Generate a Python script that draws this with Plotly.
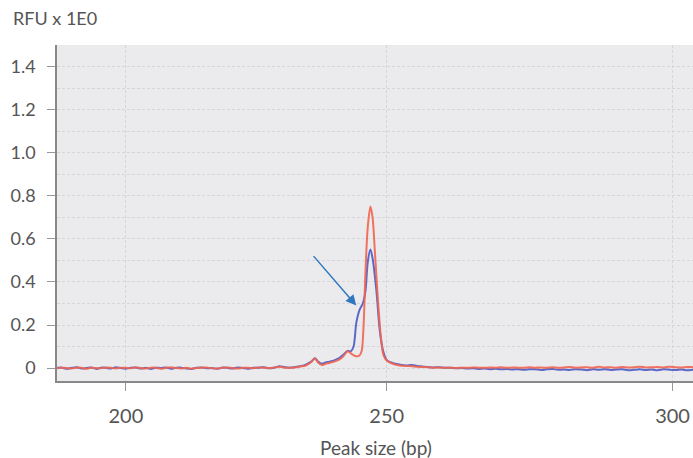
import numpy as np
import plotly.graph_objects as go

# ---------------- data ----------------
tick_bp = [200, 250, 300]
tick_text = ["200", "250", "300"]

bp_left = [186, 187, 188, 189, 190, 191, 192, 193, 194, 195, 196, 197, 198, 199, 200,
           201, 202, 203, 204, 205, 206, 207, 208, 209, 210, 211, 212, 213, 214, 215,
           216, 217, 218, 219, 220, 221, 222, 223, 224, 225, 226, 227, 228, 229, 230,
           231, 232, 233]
bp_right = [256.5, 257.5, 258.5, 259.5, 260.5, 261.5, 262.5, 263.5, 264.5, 265.5,
            266.5, 267.5, 268.5, 269.5, 270.5, 271.5, 272.5, 273.5, 274.5, 275.5,
            276.5, 277.5, 278.5, 279.5, 280.5, 281.5, 282.5, 283.5, 284.5, 285.5,
            286.5, 287.5, 288.5, 289.5, 290.5, 291.5, 292.5, 293.5, 294.5, 295.5,
            296.5, 297.5, 298.5, 299.5, 300.5, 301.5, 302.5, 303.5, 304.5]

# blue trace
blue_left = [0.001, 0.002, -0.003, 0.001, 0.004, -0.002, 0.000, 0.003, -0.004, 0.002,
             0.001, -0.002, 0.004, 0.000, -0.003, 0.002, 0.003, -0.002, 0.001, -0.004,
             0.002, 0.000, 0.003, -0.003, 0.001, 0.002, -0.002, -0.004, 0.001, 0.003,
             -0.001, 0.000, -0.003, 0.002, 0.001, -0.002, 0.003, 0.000, -0.003, 0.002,
             0.001, 0.004, -0.001, 0.002, 0.008, 0.004, 0.002, 0.005]
bp_blue_peak = [234, 235, 236, 236.7, 237.3, 238.0, 238.7, 239.4, 240.3, 241.3,
                242.0, 242.8, 243.4, 243.9, 244.4, 245.0, 245.6, 246.1, 246.5, 247.0,
                247.4, 248.1, 248.7, 249.3, 250.0, 251.1, 252.4, 253.5, 254.6, 255.5]
blue_peak = [0.009, 0.016, 0.030, 0.046, 0.030, 0.020, 0.026, 0.030, 0.036, 0.048,
             0.062, 0.080, 0.078, 0.100, 0.210, 0.270, 0.300, 0.360, 0.490, 0.550,
             0.510, 0.360, 0.180, 0.083, 0.037, 0.023, 0.016, 0.012, 0.014, 0.010]
blue_right = [0.007, 0.005, 0.003, 0.004, 0.001, 0.002, -0.001, 0.000, -0.002, -0.001,
              -0.004, -0.002, -0.005, -0.003, -0.006, -0.004, -0.007, -0.005, -0.008, -0.006,
              -0.005, -0.009, -0.006, -0.004, -0.008, -0.007, -0.009, -0.005, -0.007, -0.010,
              -0.006, -0.008, -0.005, -0.009, -0.007, -0.006, -0.010, -0.008, -0.006, -0.009,
              -0.007, -0.010, -0.006, -0.008, -0.009, -0.007, -0.010, -0.008, -0.009]

# red trace
red_left = [-0.001, 0.001, 0.000, -0.002, 0.002, 0.001, -0.003, 0.002, 0.000, -0.001,
            0.003, 0.001, -0.002, 0.002, 0.001, -0.001, 0.003, 0.000, -0.002, 0.002,
            0.001, -0.003, 0.001, 0.004, 0.000, -0.002, 0.001, -0.003, 0.000, 0.002,
            0.003, -0.001, -0.002, 0.001, 0.003, 0.000, -0.002, 0.001, 0.002, -0.001,
            0.003, 0.002, 0.000, 0.003, 0.006, 0.002, 0.001, 0.003]
bp_red_peak = [234, 235, 236, 236.7, 237.3, 238.0, 238.7, 239.4, 240.3, 241.3,
               242.0, 242.8, 243.5, 244.3, 245.0, 245.4, 245.75, 246.1, 246.5, 247.0,
               247.4, 247.8, 248.3, 248.9, 249.4, 250.0, 251.1, 252.4, 253.5, 254.6,
               255.5]
red_peak = [0.007, 0.012, 0.028, 0.045, 0.026, 0.014, 0.020, 0.024, 0.030, 0.040,
            0.055, 0.078, 0.066, 0.055, 0.058, 0.080, 0.200, 0.450, 0.650, 0.750,
            0.700, 0.550, 0.350, 0.150, 0.060, 0.035, 0.020, 0.012, 0.010, 0.008,
            0.006]
red_right = [0.005, 0.004, 0.002, 0.003, 0.001, 0.002, 0.000, 0.002, 0.001, 0.003,
             0.002, 0.001, 0.003, 0.002, 0.004, 0.001, 0.003, 0.002, 0.001, 0.004,
             0.002, 0.003, 0.001, 0.004, 0.002, 0.003, 0.005, 0.002, 0.003, 0.004,
             0.002, 0.006, 0.003, 0.004, 0.002, 0.005, 0.003, 0.004, 0.006, 0.003,
             0.004, 0.005, 0.003, 0.006, 0.004, 0.003, 0.005, 0.004, 0.006]

assert len(bp_left) == len(blue_left) == len(red_left)
assert len(bp_right) == len(blue_right) == len(red_right)
assert len(bp_blue_peak) == len(blue_peak)
assert len(bp_red_peak) == len(red_peak)

bp_blue = bp_left + bp_blue_peak + bp_right
rfu_blue = blue_left + blue_peak + blue_right
bp_red = bp_left + bp_red_peak + bp_right
rfu_red = red_left + red_peak + red_right


# size-standard calibration: migration position as a function of fragment size
def to_scan(bp):
    d = np.asarray(bp, dtype=float) - 250.0
    return 387.0 + 5.463 * d + 0.00498 * d * d


BLUE = "rgba(75,90,195,0.9)"
RED = "rgba(242,100,80,0.9)"
TXT = "#555555"
FONT = "Lato, 'Noto Sans', sans-serif"

fig = go.Figure()
fig.add_trace(go.Scatter(x=to_scan(bp_blue), y=rfu_blue, mode="lines",
                         line=dict(color=BLUE, width=2, shape="spline", smoothing=0.8),
                         hoverinfo="skip", showlegend=False))
fig.add_trace(go.Scatter(x=to_scan(bp_red), y=rfu_red, mode="lines",
                         line=dict(color=RED, width=2, shape="spline", smoothing=0.8),
                         hoverinfo="skip", showlegend=False))

grid = dict(showgrid=True, gridcolor="#d6d6da", gridwidth=1, griddash="3px,2px")

fig.update_layout(
    width=693, height=458,
    margin=dict(l=57, r=0, t=45, b=77),
    paper_bgcolor="white", plot_bgcolor="#ebebed",
    font=dict(family=FONT, color=TXT),
    xaxis=dict(range=[57.5, 693], tickvals=list(to_scan(tick_bp)), ticktext=tick_text,
               ticks="outside", ticklen=8, tickcolor="#999999", tickwidth=1,
               tickfont=dict(size=20, color=TXT), ticklabelstandoff=8,
               showline=True, linecolor="#888888", linewidth=1.5,
               zeroline=False, **grid),
    yaxis=dict(range=[-0.06, 1.5], tickvals=[0, 0.2, 0.4, 0.6, 0.8, 1.0, 1.2, 1.4],
               ticktext=["0", "0.2", "0.4", "0.6", "0.8", "1.0", "1.2", "1.4"],
               ticks="outside", ticklen=8, tickcolor="#999999", tickwidth=1,
               tickfont=dict(size=18, color=TXT), ticklabelstandoff=8,
               showline=True, linecolor="#888888", linewidth=1.5,
               zeroline=False,
               minor=dict(tickvals=[0.1, 0.3, 0.5, 0.7, 0.9, 1.1, 1.3], showgrid=True,
                          gridcolor="#d6d6da", griddash="3px,2px", ticks=""),
               **grid),
    annotations=[
        dict(text="RFU x 1E0", xref="paper", yref="paper", x=(11 - 57) / 636, y=1 + 27 / 336,
             xanchor="left", yanchor="middle", showarrow=False,
             font=dict(size=18, color=TXT)),
        dict(text="Peak size (bp)", xref="paper", yref="paper", x=(376 - 57) / 636,
             y=-66 / 336, xanchor="center", yanchor="middle", showarrow=False,
             font=dict(size=19, color=TXT)),
        dict(x=float(to_scan(244.4)), y=0.29, xref="x", yref="y", ax=-44, ay=-51,
             showarrow=True, arrowhead=2, arrowsize=1.4, arrowwidth=1.5,
             arrowcolor="#2f78c0", text=""),
    ],
)

fig.write_html("out.html")
